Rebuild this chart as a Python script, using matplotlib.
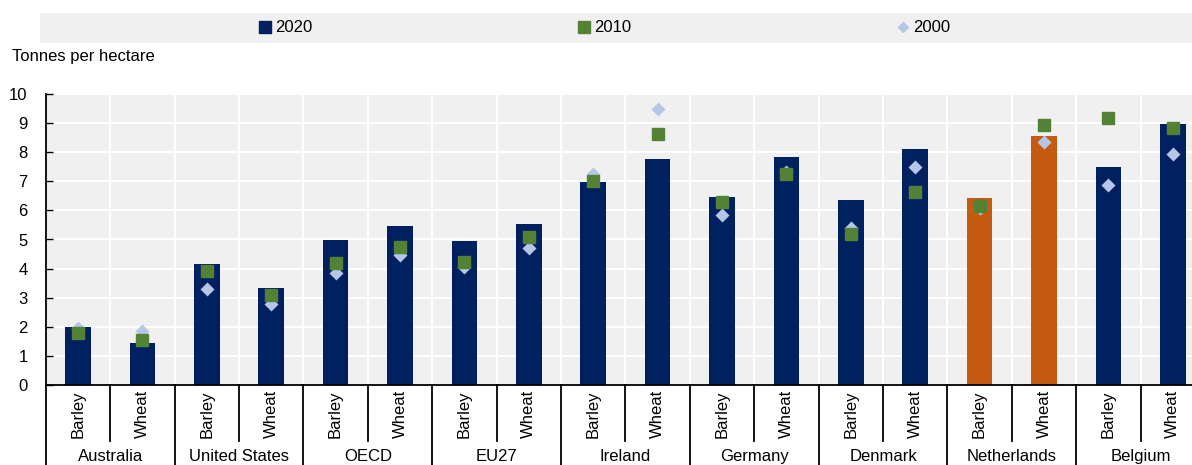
import matplotlib
matplotlib.use("Agg")
import matplotlib.pyplot as plt
from matplotlib.patches import Rectangle
from matplotlib.lines import Line2D

plt.rcParams['font.family'] = ['Liberation Sans', 'DejaVu Sans']

countries = ['Australia', 'United States', 'OECD', 'EU27', 'Ireland',
             'Germany', 'Denmark', 'Netherlands', 'Belgium']
crops = ['Barley', 'Wheat']
highlight = 'Netherlands'

# yields, tonnes per hectare, order: country x (Barley, Wheat)
y2020 = [2.00, 1.45, 4.17, 3.32, 4.99, 5.45, 4.96, 5.52, 6.96, 7.77,
         6.45, 7.82, 6.36, 8.10, 6.41, 8.57, 7.49, 8.97]
y2010 = [1.78, 1.56, 3.93, 3.09, 4.19, 4.73, 4.23, 5.09, 7.00, 8.61,
         6.28, 7.24, 5.18, 6.62, 6.15, 8.92, 9.16, 8.82]
y2000 = [1.95, 1.87, 3.29, 2.78, 3.84, 4.47, 4.07, 4.70, 7.24, 9.47,
         5.85, 7.33, 5.38, 7.48, 6.09, 8.36, 6.87, 7.94]

navy = '#002060'
orange = '#C55A11'
green = '#548235'
light = '#B4C7E7'

W, H = 1192, 465
fig = plt.figure(figsize=(W / 100, H / 100), dpi=100)
ax_left, ax_right, ax_top, ax_bot = 45.8, 1205, 94, 385
ax = fig.add_axes([ax_left / W, (H - ax_bot) / H,
                   (ax_right - ax_left) / W, (ax_bot - ax_top) / H])
ax.set_facecolor('#F0F0F0')

n = len(y2020)
xs = list(range(n))
colors = []
for c in countries:
    col = orange if c == highlight else navy
    colors += [col, col]

ax.bar(xs, y2020, width=0.4, color=colors, zorder=2)
ax.plot(xs, y2010, ls='none', marker='s', ms=9, color=green, zorder=4)
ax.plot(xs, y2000, ls='none', marker='D', ms=7.5, color=light, mec='none', zorder=3)

ax.set_xlim(-0.5, n - 0.5)
ax.set_ylim(0, 10)
ax.set_yticks(range(0, 11))
ax.tick_params(axis='y', direction='in', length=5, width=1, pad=13, labelsize=12)
ax.set_xticks([])
for s in ['top', 'right']:
    ax.spines[s].set_visible(False)
ax.spines['bottom'].set_linewidth(1.3)
ax.spines['left'].set_linewidth(1.3)
ax.spines['left'].set_bounds(0, 10)

# white grid
for yv in range(1, 11):
    ax.axhline(yv, color='white', lw=1.5, zorder=1)
for i in range(n):
    ax.axvline(i + 0.5, color='white', lw=1.5, zorder=1)

# category axis: separators and labels
tr = ax.get_xaxis_transform()
ah = ax_bot - ax_top
for i in range(n + 1):
    xb = i - 0.5
    if i % 2 == 0:
        y_end = -(H - ax_bot + 5) / ah
    else:
        y_end = -56 / ah
    ax.plot([xb, xb], [0, y_end], color='black', lw=1.3, transform=tr, clip_on=False)

for i in range(n):
    ax.text(i, -5 / ah, crops[i % 2], rotation=90, ha='center', va='top',
            fontsize=12, transform=tr)
for j, c in enumerate(countries):
    ax.text(2 * j + 0.5, -64 / ah, c, ha='center', va='top', fontsize=12, transform=tr)

fig.text(12 / W, 1 - 57 / H, 'Tonnes per hectare', ha='left', va='center', fontsize=12)

# legend band
fig.patches.append(Rectangle((40 / W, 1 - 43 / H), (W - 40) / W, 30 / H,
                             transform=fig.transFigure, facecolor='#F0F0F0',
                             edgecolor='none', zorder=0))
handles = [Line2D([], [], ls='none', marker='s', ms=8, color=navy),
           Line2D([], [], ls='none', marker='s', ms=8, color=green),
           Line2D([], [], ls='none', marker='D', ms=5.5, color=light)]
fig.legend(handles, ['2020', '2010', '2000'], ncol=3, loc='center',
           bbox_to_anchor=(605 / W, 1 - 28 / H), frameon=False, fontsize=12,
           handlelength=0.6, handletextpad=0.3, columnspacing=16)

fig.savefig('out.png', dpi=100)
